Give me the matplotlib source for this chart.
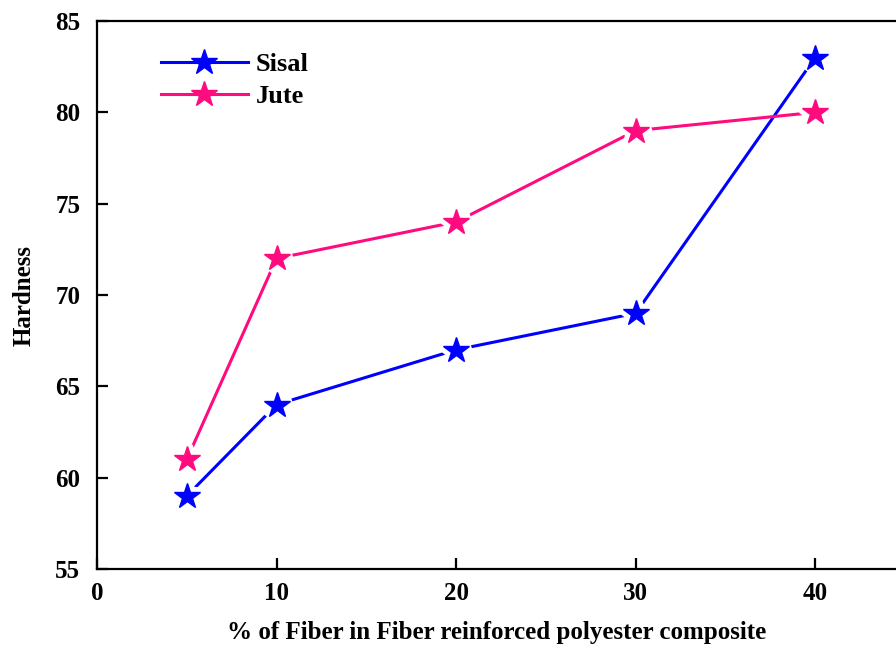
import numpy as np
import matplotlib.pyplot as plt

# hardness vs fibre content
fiber_pct = [5, 10, 20, 30, 40]
sisal = [59, 64, 67, 69, 83]
jute = [61, 72, 74, 79, 80]

x_ticks = [0, 10, 20, 30, 40]
y_ticks = [55, 60, 65, 70, 75, 80, 85]

plt.rcParams['font.family'] = ['Liberation Serif', 'DejaVu Serif']
plt.rcParams['font.weight'] = 'bold'

fig = plt.figure(figsize=(8.96, 6.5), dpi=100)
ax = fig.add_axes([0.1083, 0.1246, 0.8917, 0.8431])

series = [(sisal, '#0000FF', 'Sisal'), (jute, '#FF0A7F', 'Jute')]
for vals, col, name in series:
    ax.plot(fiber_pct, vals, '-', color=col, lw=2.2, marker='*', ms=19,
            mec=col, label=name, zorder=2, clip_on=False)
    # white halo so the line stops short of each star
    ax.plot(fiber_pct, vals, ls='none', marker='*', ms=19, mfc='white',
            mec='white', mew=8, zorder=3, clip_on=False)
    ax.plot(fiber_pct, vals, ls='none', marker='*', ms=19, mfc=col,
            mec=col, zorder=4, clip_on=False)

ax.set_xlim(0, 44.5)
ax.set_ylim(55, 85)
ax.set_xticks(x_ticks)
ax.set_yticks(y_ticks)

for s in ['left', 'bottom', 'top']:
    ax.spines[s].set_linewidth(1.6)
ax.spines['right'].set_visible(False)

ax.tick_params(axis='both', direction='in', width=1.6, labelsize=18)
ax.tick_params(axis='x', length=8, pad=9)
ax.tick_params(axis='y', length=8, pad=12)
ax.tick_params(axis='both', which='both', top=False, right=False)

ax.set_xlabel('% of Fiber in Fiber reinforced polyester composite',
              fontsize=18, fontweight='bold', labelpad=12)
ax.set_ylabel('Hardness', fontsize=18, fontweight='bold', labelpad=14)

ax.legend(loc='upper left', bbox_to_anchor=(0.05, 0.985), frameon=False,
          handlelength=3.3, handletextpad=0.3, labelspacing=0.3,
          prop={'weight': 'bold', 'size': 19})

fig.savefig('out.png', dpi=100)
